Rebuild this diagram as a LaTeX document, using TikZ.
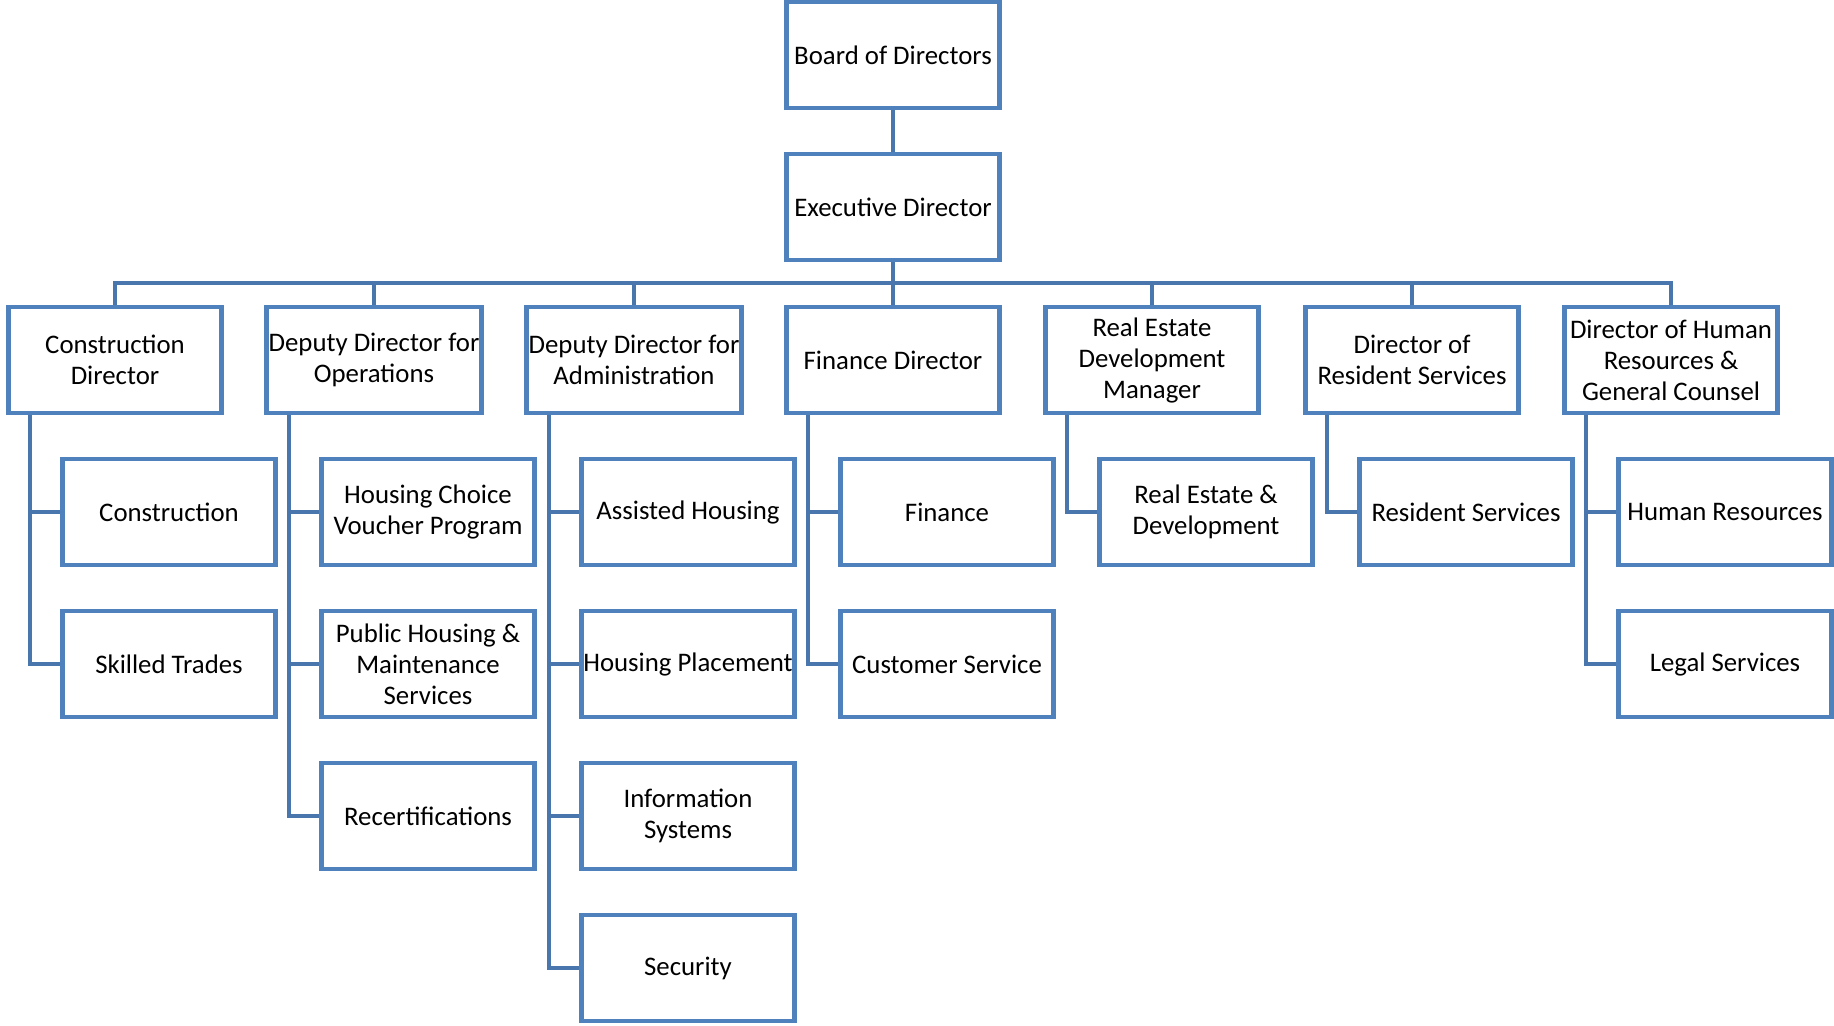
\documentclass[tikz,border=0pt]{standalone}
\usepackage{fontspec}
\setmainfont{Carlito}
\definecolor{boxblue}{HTML}{4F81BD}
\definecolor{lineblue}{HTML}{4A76AE}

\begin{document}
\begin{tikzpicture}[x=0.5pt,y=-0.5pt,
 unit/.style={draw=boxblue,line width=2.4pt,fill=white,minimum width=106.5pt,
  minimum height=53pt,inner sep=1pt,align=center,
  font=\fontsize{13.4}{15.5}\selectfont},
 link/.style={draw=lineblue,line width=2.4pt}]
\useasboundingbox (0,0) rectangle (1834,1026);

% top
\node [unit] (board) at (893,55) {Board of Directors};
\node [unit] (exec) at (893,207) {Executive Director};
\coordinate (bus) at (893,283);

% directors
\node [unit] (cdir) at (115,360) {Construction\\Director};
\node [unit] (opdir) at (374,360) {Deputy Director for\\Operations};
\node [unit] (addir) at (634,360) {Deputy Director for\\Administration};
\node [unit] (findir) at (893,360) {Finance Director};
\node [unit] (redir) at (1152,360) {Real Estate\\Development\\Manager};
\node [unit] (rsdir) at (1412,360) {Director of\\Resident Services};
\node [unit] (hrdir) at (1671,360) {Director of Human\\Resources \&\\General Counsel};

% departments
\node [unit] (constr) at (169,512) {Construction};
\node [unit] (trades) at (169,664) {Skilled Trades};

\node [unit] (voucher) at (428,512) {Housing Choice\\Voucher Program};
\node [unit] (public) at (428,664) {Public Housing \&\\Maintenance\\Services};
\node [unit] (recert) at (428,816) {Recertifications};

\node [unit] (assist) at (688,512) {Assisted Housing};
\node [unit] (place) at (688,664) {Housing Placement};
\node [unit] (infosys) at (688,816) {Information\\Systems};
\node [unit] (secur) at (688,968) {Security};

\node [unit] (fin) at (947,512) {Finance};
\node [unit] (custom) at (947,664) {Customer Service};

\node [unit] (realest) at (1206,512) {Real Estate \&\\Development};

\node [unit] (resid) at (1466,512) {Resident Services};

\node [unit] (human) at (1725,512) {Human Resources};
\node [unit] (legal) at (1725,664) {Legal Services};

% lines
\draw [link] (board) -- (exec);
\draw [link] (exec) -- (bus);
\draw [link] (cdir.north) -- (cdir.north |- bus) -- (hrdir.north |- bus) -- (hrdir.north);
\draw [link] (opdir.north) -- (opdir.north |- bus);
\draw [link] (addir.north) -- (addir.north |- bus);
\draw [link] (findir.north) -- (findir.north |- bus);
\draw [link] (redir.north) -- (redir.north |- bus);
\draw [link] (rsdir.north) -- (rsdir.north |- bus);

\draw [link] ([xshift=-42.5pt]cdir.south) |- (constr.west);
\draw [link] ([xshift=-42.5pt]cdir.south) |- (trades.west);

\draw [link] ([xshift=-42.5pt]opdir.south) |- (voucher.west);
\draw [link] ([xshift=-42.5pt]opdir.south) |- (public.west);
\draw [link] ([xshift=-42.5pt]opdir.south) |- (recert.west);

\draw [link] ([xshift=-42.5pt]addir.south) |- (assist.west);
\draw [link] ([xshift=-42.5pt]addir.south) |- (place.west);
\draw [link] ([xshift=-42.5pt]addir.south) |- (infosys.west);
\draw [link] ([xshift=-42.5pt]addir.south) |- (secur.west);

\draw [link] ([xshift=-42.5pt]findir.south) |- (fin.west);
\draw [link] ([xshift=-42.5pt]findir.south) |- (custom.west);

\draw [link] ([xshift=-42.5pt]redir.south) |- (realest.west);

\draw [link] ([xshift=-42.5pt]rsdir.south) |- (resid.west);

\draw [link] ([xshift=-42.5pt]hrdir.south) |- (human.west);
\draw [link] ([xshift=-42.5pt]hrdir.south) |- (legal.west);

\end{tikzpicture}
\end{document}
